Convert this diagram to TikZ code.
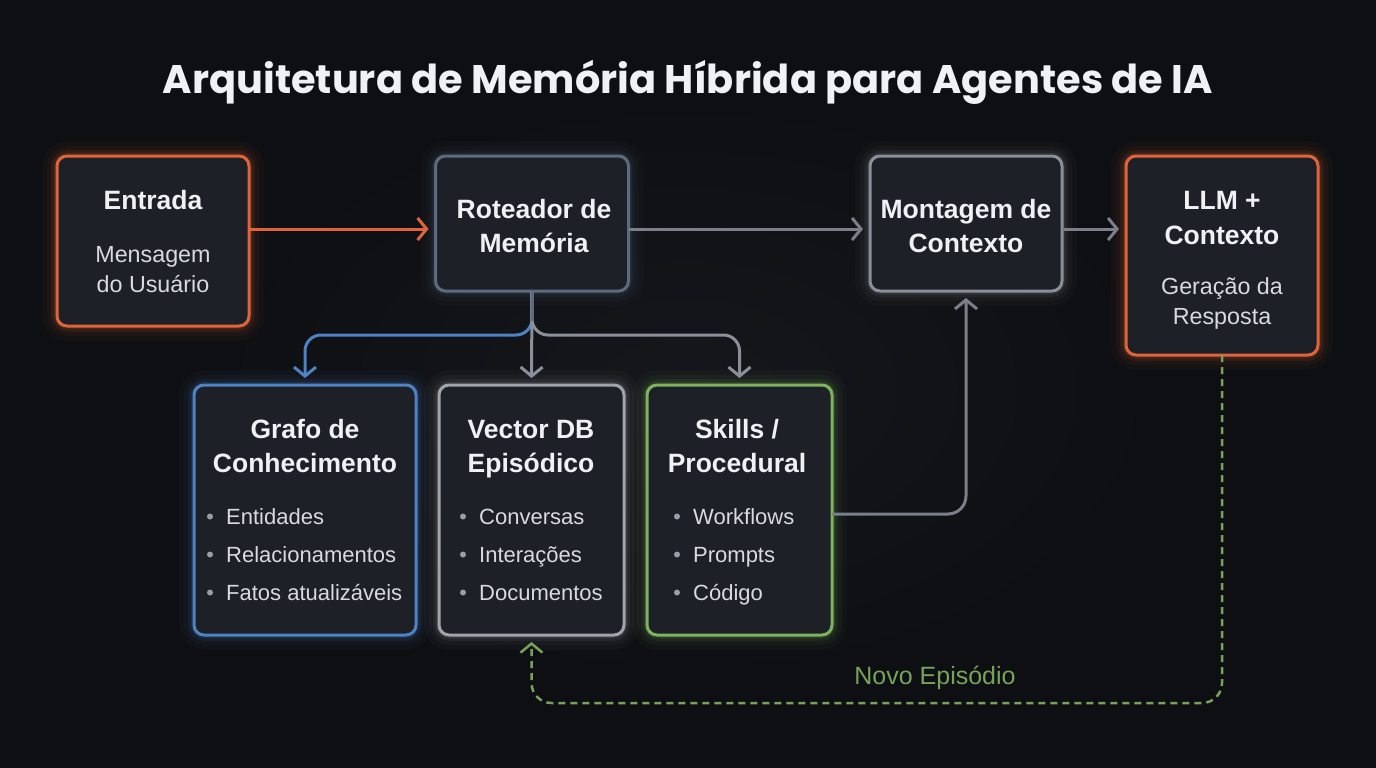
\documentclass[tikz,border=0pt]{standalone}
\usepackage{fontspec}
\setmainfont{Liberation Sans}
\newfontfamily\titlefont{Poppins}
\usetikzlibrary{arrows.meta,calc}
\definecolor{bgc}{HTML}{0E0F12}
\definecolor{bgin}{HTML}{17181D}
\definecolor{boxfill}{HTML}{1E2028}
\definecolor{corange}{HTML}{E0643A}
\definecolor{cslate}{HTML}{5B6B80}
\definecolor{cgray}{HTML}{8B8F99}
\definecolor{cblue}{HTML}{4D82C4}
\definecolor{clight}{HTML}{A2A4AB}
\definecolor{cgreen}{HTML}{7CB35C}
\definecolor{carrow}{HTML}{7A7F8A}
\definecolor{cdash}{HTML}{76A35A}
\definecolor{headc}{HTML}{F0F1F4}
\definecolor{bodyc}{HTML}{D8DADF}
\definecolor{dotc}{HTML}{9A9DA5}
\pgfdeclarelayer{bglayer}
\pgfdeclarelayer{glowlayer}
\pgfsetlayers{bglayer,glowlayer,main}
\newcommand\glowit[2]{%
  \begin{pgfonlayer}{glowlayer}
  \foreach \w/\o in {30/0.035,20/0.05,12/0.08,7/0.12}{%
    \draw[#2, line width=\w pt, opacity=\o, rounded corners=11pt] (#1.north west) rectangle (#1.south east);}
  \end{pgfonlayer}}
\tikzset{
  box/.style={rounded corners=10pt, fill=boxfill, line width=3pt, inner sep=0pt, outer sep=0pt},
  head/.style={text=headc, font=\bfseries\fontsize{26.5}{31}\selectfont, anchor=base, inner sep=0pt},
  body/.style={text=bodyc, font=\fontsize{23.3}{28}\selectfont, anchor=base, inner sep=0pt},
  item/.style={text=bodyc, font=\fontsize{22}{26}\selectfont, anchor=base west, inner sep=0pt},
  bul/.style={circle, fill=dotc, inner sep=0pt, minimum size=6pt},
  conn/.style={line width=3pt, -{Straight Barb[length=9pt,width=22pt]}, shorten >=7pt, line join=round},
}
\begin{document}
\begin{tikzpicture}[x=1pt,y=-1pt]
\useasboundingbox (0,0) rectangle (1376,768);
\begin{pgfonlayer}{bglayer}
\fill[bgc] (0,0) rectangle (1376,768);
\shade[inner color=bgin, outer color=bgc, opacity=0.9] (150,60) rectangle (1226,720);
\end{pgfonlayer}

% title
\node[text=headc, font=\titlefont\bfseries\fontsize{39.9}{46}\selectfont, anchor=base, inner sep=0pt] (title) at (688,93) {Arquitetura de Memória Híbrida para Agentes de IA};

% boxes
\node[box, draw=corange, minimum width=192pt, minimum height=170pt] (entrada) at (153,241) {};
\node[box, draw=cslate, minimum width=193pt, minimum height=135pt] (roteador) at (532,223.5) {};
\node[box, draw=cgray, minimum width=192pt, minimum height=135pt] (montagem) at (966,223.5) {};
\node[box, draw=corange, minimum width=192pt, minimum height=199pt] (llm) at (1222,255.5) {};
\node[box, draw=cblue, minimum width=222pt, minimum height=250pt] (grafo) at (305,510) {};
\node[box, draw=clight, minimum width=185pt, minimum height=250pt] (vector) at (531.5,510) {};
\node[box, draw=cgreen, minimum width=185pt, minimum height=250pt] (skills) at (739.5,510) {};
\glowit{entrada}{corange}
\glowit{roteador}{cslate}
\glowit{montagem}{cgray}
\glowit{llm}{corange}
\glowit{grafo}{cblue}
\glowit{vector}{clight}
\glowit{skills}{cgreen}

% texts
\node[head] (e1) at (153,209) {Entrada};
\node[body] (e2) at (153,262) {Mensagem};
\node[body] (e3) at (153,292) {do Usuário};
\node[head] (r1) at (534,218) {Roteador de};
\node[head] (r2) at (534,252) {Memória};
\node[head] (m1) at (966,218) {Montagem de};
\node[head] (m2) at (966,252) {Contexto};
\node[head] (l1) at (1222,209) {LLM +};
\node[head] (l2) at (1222,244) {Contexto};
\node[body] (l3) at (1222,294) {Geração da};
\node[body] (l4) at (1222,324) {Resposta};

\node[head] (g1) at (305,438) {Grafo de};
\node[head] (g2) at (305,472) {Conhecimento};
\node[head] (v1) at (531,438) {Vector DB};
\node[head] (v2) at (531,472) {Episódico};
\node[head] (s1) at (737,438) {Skills /};
\node[head] (s2) at (737,472) {Procedural};

\foreach \n/\y/\t in {a/524/Entidades,b/562/Relacionamentos,c/600/Fatos atualizáveis}{
  \node[bul] (gd\n) at (210,\y-7.5) {};
  \node[item] (gi\n) at (226,\y) {\t};}
\foreach \n/\y/\t in {a/524/Conversas,b/562/Interações,c/600/Documentos}{
  \node[bul] (vd\n) at (463,\y-7.5) {};
  \node[item] (vi\n) at (479,\y) {\t};}
\foreach \n/\y/\t in {a/524/Workflows,b/562/Prompts,c/600/Código}{
  \node[bul] (sd\n) at (677,\y-7.5) {};
  \node[item] (si\n) at (693,\y) {\t};}

% connectors
\coordinate (ay) at (0,229);
\draw[conn, corange] (entrada.east |- ay) -- (roteador.west |- ay);
\draw[conn, carrow] (roteador.east |- ay) -- (montagem.west |- ay);
\draw[conn, carrow] (montagem.east |- ay) -- (llm.west |- ay);

\draw[conn, cblue, rounded corners=16pt] (roteador.south) -- ++(0,44) -| (grafo.north);
\draw[conn, cgray, rounded corners=16pt] (roteador.south) -- ++(0,44) -| (skills.north);
\draw[conn, cgray] (roteador.south) -- (vector.north);
\draw[line width=3pt, cslate] (roteador.south) -- ++(0,30);

\coordinate (sk) at ($(skills.east)+(0,4)$);
\draw[conn, carrow, rounded corners=18pt] (sk) -| (montagem.south);

\draw[conn, cdash, line width=2.5pt, dash pattern=on 7pt off 5pt, rounded corners=20pt] (llm.south) -- ++(0,348) -| (vector.south);

\node[text=cdash, font=\fontsize{25}{30}\selectfont, anchor=base, inner sep=0pt] (novo) at (935,684) {Novo Episódio};
\end{tikzpicture}
\end{document}
